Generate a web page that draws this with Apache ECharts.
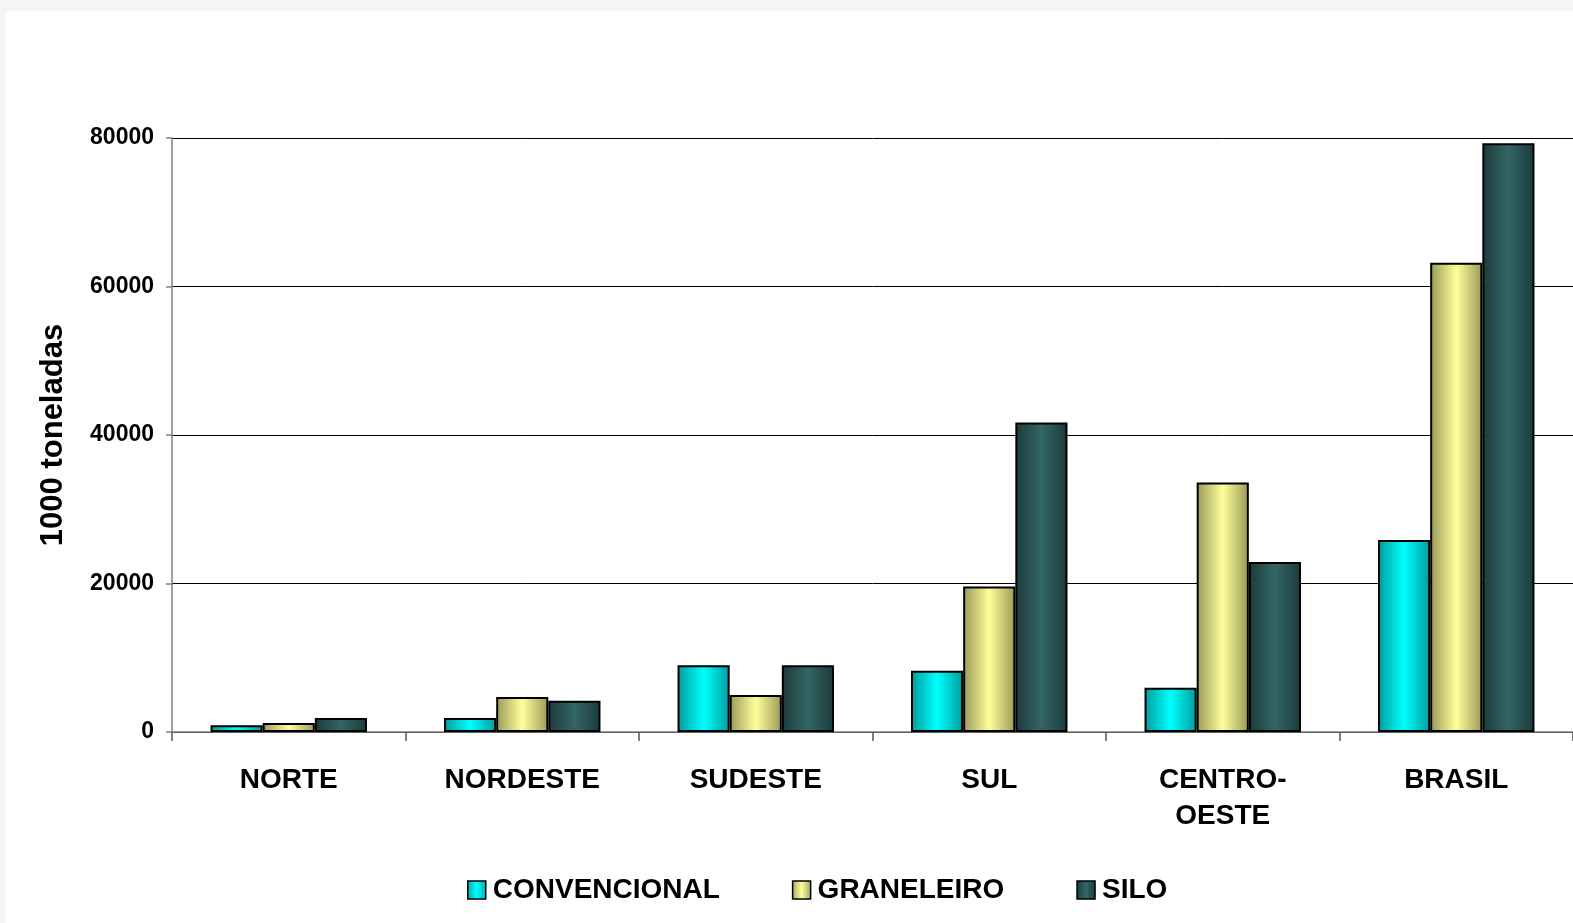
<!DOCTYPE html>
<html>
<head>
<meta charset="utf-8">
<script src="https://cdn.jsdelivr.net/npm/echarts@6/dist/echarts.min.js"></script>
<style>
html,body{margin:0;padding:0;width:100%;height:100%;background:#f5f5f5;overflow:hidden;}
#card{position:absolute;left:6px;top:11px;right:0;bottom:0;background:#ffffff;}
#chart{position:absolute;left:0;top:0;right:0;bottom:0;}
</style>
</head>
<body>
<div id="card"></div>
<div id="chart"></div>
<script>
const categories = ['NORTE', 'NORDESTE', 'SUDESTE', 'SUL', 'CENTRO-\nOESTE', 'BRASIL'];
const seriesNames = ['CONVENCIONAL', 'GRANELEIRO', 'SILO'];
const convencional = [900, 1900, 9000, 8250, 5950, 25850];
const graneleiro = [1200, 4700, 5000, 19600, 33600, 63200];
const silo = [1900, 4200, 9000, 41700, 22900, 79300];
const yTicks = [0, 20000, 40000, 60000, 80000];

function grad(edge, mid) {
  return {type:'linear', x:0, y:0, x2:1, y2:0, colorStops:[
    {offset:0, color:edge},{offset:0.5, color:mid},{offset:1, color:edge}]};
}
const styles = [
  {fill: grad('#009c9c', '#00ffff'), legend: grad('#00a8a8', '#00ffff')},
  {fill: grad('#99995a', '#ffff99'), legend: grad('#a3a35f', '#ffff99')},
  {fill: grad('#1c3a3a', '#336666'), legend: grad('#1c3a3a', '#336666')}
];
const dataSets = [convencional, graneleiro, silo];
const font = '"Liberation Sans", Arial, sans-serif';

const chart = echarts.init(document.getElementById('chart'), null, {renderer:'canvas'});
chart.setOption({
  backgroundColor: 'transparent',
  animation: false,
  textStyle: {fontFamily: font},
  grid: {left: 172, right: 0, top: 138, bottom: 191, containLabel: false},
  legend: {
    data: seriesNames.map((n, i) => ({name: n, itemStyle: {color: styles[i].legend, borderColor:'#000', borderWidth:1.5}})),
    left: 462, top: 871,
    itemWidth: 18, itemHeight: 18, itemGap: 72,
    icon: 'rect',
    textStyle: {fontSize: 28, fontWeight: 'bold', color: '#000', fontFamily: font, padding:[0,0,0,2]}
  },
  xAxis: {
    type: 'category',
    data: categories,
    axisLine: {show: true, lineStyle: {color: '#808080', width: 1.5}},
    axisTick: {show: true, alignWithLabel: false, length: 9, lineStyle: {color: '#555', width: 1.5}},
    axisLabel: {margin: 30, fontSize: 28, fontWeight: 'bold', color: '#000', lineHeight: 36, fontFamily: font},
    splitLine: {show: false}
  },
  yAxis: {
    type: 'value',
    min: yTicks[0], max: yTicks[yTicks.length - 1], interval: 20000,
    name: '1000 toneladas',
    nameLocation: 'middle',
    nameGap: 103,
    nameTextStyle: {fontSize: 31, fontWeight: 'bold', color: '#000', fontFamily: font},
    axisLine: {show: true, lineStyle: {color: '#808080', width: 1.5}},
    axisTick: {show: true, inside: false, length: 6, lineStyle: {color: '#808080', width: 1.5}},
    axisLabel: {margin: 18, fontSize: 23, fontWeight: 'bold', color: '#000', fontFamily: font,
      formatter: v => String(v)},
    splitLine: {show: true, lineStyle: {color: '#000', width: 1}}
  },
  series: seriesNames.map((n, i) => ({
    name: n,
    type: 'bar',
    data: dataSets[i],
    barGap: '0%',
    barCategoryGap: '33%',
    itemStyle: {color: styles[i].fill, borderColor: '#000', borderWidth: 2}
  }))
});
</script>
</body>
</html>
